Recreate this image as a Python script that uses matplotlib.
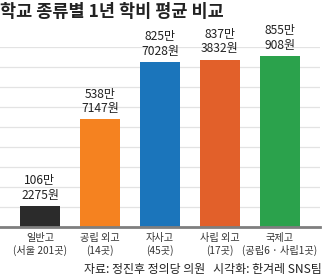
import matplotlib.pyplot as plt

plt.rcParams['font.family'] = ['Noto Sans CJK KR', 'DejaVu Sans']

# 평균 학비 (만원 단위)
schools = ['일반고\n(서울 201곳)', '공립 외고\n(14곳)', '자사고\n(45곳)',
           '사립 외고\n(17곳)', '국제고\n(공립6 · 사립1곳)']
fees = [106.2275, 538.7147, 825.7028, 837.3832, 855.0908]
fee_labels = ['106만\n2275원', '538만\n7147원', '825만\n7028원',
              '837만\n3832원', '855만\n908원']
colors = ['#2b2b2b', '#f58220', '#1b75bb', '#e2602a', '#2ba24c']

W, H = 327, 277
fig = plt.figure(figsize=(W / 100, H / 100), dpi=100)
ax = fig.add_axes([0 / W, (H - 227) / H, 320 / W, 180 / H])

ax.bar(range(len(fees)), fees, width=40 / 60, color=colors, zorder=3)
for i, v in enumerate(fees):
    ax.annotate(fee_labels[i], (i, v), xytext=(0, 3), textcoords='offset points',
                ha='center', va='bottom', fontsize=8.7, color='#222222',
                linespacing=1.15)

for g in range(100, 1000, 100):
    ax.axhline(g, color='#e3e3e3', lw=0.9, zorder=1)

ax.set_xlim(-40 / 60, 280 / 60)
ax.set_ylim(0, 900)
ax.set_yticks([])
ax.set_xticks(range(len(fees)))
ax.set_xticklabels(schools, fontsize=7.3, color='#333333', linespacing=1.3)
ax.tick_params(axis='x', length=0, pad=4)
for s in ['top', 'left', 'right']:
    ax.spines[s].set_visible(False)
ax.spines['bottom'].set_color('#7f7f7f')
ax.spines['bottom'].set_linewidth(2)
ax.spines['bottom'].set_zorder(4)

fig.text(0 / W, 1 - 12 / H, '학교 종류별 1년 학비 평균 비교', fontsize=12.6,
         fontweight='bold', color='#222222', ha='left', va='center')
fig.text(322 / W, 1 - 269 / H, '자료: 정진후 정의당 의원   시각화: 한겨레 SNS팀',
         fontsize=8.6, color='#222222', ha='right', va='center')

fig.savefig('out.png', dpi=100)
